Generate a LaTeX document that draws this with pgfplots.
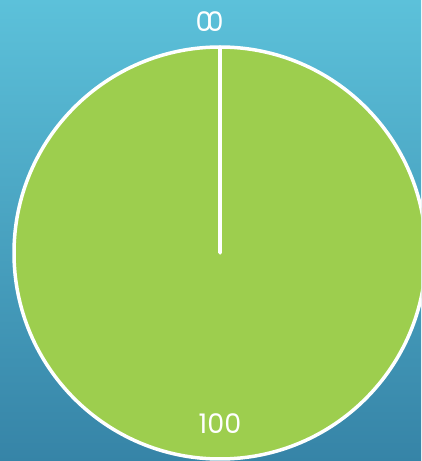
\documentclass[border=0pt]{standalone}
\usepackage{pgfplots}
\usepackage{pgfplotstable}
\pgfplotsset{compat=1.18}
\usepackage{fontspec}
\setmainfont{Poppins}
\definecolor{bgtop}{HTML}{5CC1DA}
\definecolor{bgbot}{HTML}{3684A7}
\definecolor{piegreen}{HTML}{9DCE4E}
\pgfplotstableread{
name value
a 0
b 100
c 0
}\piedata
\pgfplotstablegetelem{0}{value}\of{\piedata}\edef\va{\pgfplotsretval}
\pgfplotstablegetelem{1}{value}\of{\piedata}\edef\vb{\pgfplotsretval}
\pgfplotstablegetelem{2}{value}\of{\piedata}\edef\vc{\pgfplotsretval}
\pgfmathsetmacro\tot{\va+\vb+\vc}
\pgfmathsetmacro\aA{90}
\pgfmathsetmacro\aB{\aA-360*(\va/\tot)}
\pgfmathsetmacro\aC{\aB-360*(\vb/\tot)}
\pgfmathsetmacro\aD{\aC-360*(\vc/\tot)}
\begin{document}
\begin{tikzpicture}
\clip (0,0) rectangle (421pt,461pt);
\shade[top color=bgtop, bottom color=bgbot] (0pt,0pt) rectangle (421pt,461pt);
\begin{axis}[at={(0,0)}, anchor=south west, width=421pt, height=461pt, scale only axis,
  xmin=-220, xmax=201, ymin=-208, ymax=253, hide axis, clip=false,
  /pgf/number format/assume math mode=true]
\fill[piegreen, draw=white, line width=3.5pt, line join=round] (axis cs:0,0) -- ++(\aB:206pt) arc[start angle=\aB, end angle=\aC, radius=206pt] -- cycle;
\draw[white, line width=3.5pt] (axis cs:0,0) -- ++(\aA:206pt);
\draw[white, line width=3.5pt] (axis cs:0,0) -- ++(\aC:206pt);
\node[white, font=\fontsize{27}{27}\selectfont] at (axis cs:-16,231) {\va};
\node[white, font=\fontsize{27}{27}\selectfont] at (axis cs:-5,231) {\vc};
\node[white, font=\fontsize{27}{27}\selectfont] at (axis cs:0,-171) {\vb};
\end{axis}
\end{tikzpicture}
\end{document}
